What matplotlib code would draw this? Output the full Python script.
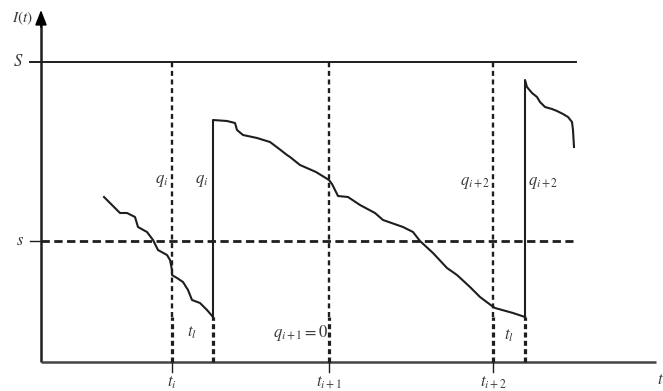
import matplotlib
matplotlib.use("Agg")
import matplotlib.pyplot as plt

plt.rcParams["mathtext.fontset"] = "stix"
plt.rcParams["font.family"] = ["Liberation Serif", "DejaVu Serif"]
plt.rcParams["lines.scale_dashes"] = False

# levels (origin = axes corner)
S_level = 300
s_level = 121

# time marks
t_i = 131
t_i_l = 172
t_i1 = 288
t_i2 = 452
t_i2_l = 484
t_end = 535

# inventory path, cycle i (before order arrives)
c1_x = [63, 79, 86, 94, 97, 106, 112, 117, 126, 129, 131, 131, 136, 142, 147, 151, 159, 166, 172]
c1_y = [165, 149, 149, 145, 135, 130, 122, 112, 107, 102, 92, 87, 84, 80, 72, 62, 59, 52, 45]

# after order q_i arrives, until before q_{i+2} arrives
c2_x = [172, 172, 186, 194, 196, 202, 216, 229, 237, 246, 249, 259, 275, 288, 291, 297, 307,
        319, 334, 342, 362, 372, 379, 392, 406, 416, 429, 439, 451, 454, 472, 484]
c2_y = [45, 242, 241, 239, 232, 227, 224, 220, 214, 207, 205, 197, 190, 182, 178, 166, 165,
        157, 149, 142, 135, 130, 121, 109, 94, 87, 75, 65, 56, 54, 49, 45]

# after q_{i+2} arrives
c3_x = [484, 484, 486, 491, 496, 499, 504, 511, 516, 522, 527, 531, 532, 533]
c3_y = [45, 282, 275, 269, 265, 260, 255, 253, 251, 248, 245, 240, 232, 215]

ink = "#1e1e1e"
txt = "#3a3a3a"

fig = plt.figure(figsize=(6.63, 3.91), dpi=100)
ax = fig.add_axes([0, 0, 1, 1])
ax.set_xlim(-41, 622)
ax.set_ylim(-29, 362)
ax.axis("off")

# axes with arrows
ax.plot([0, 0], [0, 340], color=ink, lw=1.8, solid_capstyle="butt")
ax.annotate("", xy=(0, 352), xytext=(0, 335),
            arrowprops=dict(arrowstyle="-|>,head_length=0.9,head_width=0.35",
                            color="black", lw=1.2, shrinkA=0, shrinkB=0))
ax.plot([0, 615], [0, 0], color="#444444", lw=1.8, solid_capstyle="butt")
ax.annotate("", xy=(628, 0), xytext=(612, 0),
            arrowprops=dict(arrowstyle="-|>,head_length=0.9,head_width=0.35",
                            color="black", lw=1.2, shrinkA=0, shrinkB=0))

# S and s levels
ax.plot([-11, t_end], [S_level, S_level], color=ink, lw=1.4)
ax.plot([-11, 0], [s_level, s_level], color=ink, lw=1.0)
ax.plot([0, 532], [s_level, s_level], color=ink, lw=2.0, dashes=(6, 3.2))

# vertical dashed lines
for tx in [t_i, t_i1, t_i2]:
    ax.plot([tx, tx], [45, S_level], color=ink, lw=1.7, dashes=(3.6, 2.6))
    ax.plot([tx, tx], [0, 45], color=ink, lw=2.3, dashes=(3.6, 2.4))
    ax.plot([tx, tx], [0, -10], color=ink, lw=1.0)
for tx in [t_i_l, t_i2_l]:
    ax.plot([tx, tx], [0, 45], color=ink, lw=2.3, dashes=(3.6, 2.4))

# inventory path
for cx, cy in [(c1_x, c1_y), (c2_x, c2_y), (c3_x, c3_y)]:
    ax.plot(cx, cy, color=ink, lw=1.5, solid_joinstyle="round")

fs = 12
ax.text(-19, 344, r"$I(t)$", fontsize=11, color=txt, ha="center", va="center")
ax.text(-23, S_level, r"$S$", fontsize=12, color=txt, ha="center", va="center")
ax.text(-21, s_level, r"$s$", fontsize=12, color=txt, ha="center", va="center")
ax.text(121, 181, r"$q_i$", fontsize=fs, color=txt, ha="center", va="center")
ax.text(161, 181, r"$q_i$", fontsize=fs, color=txt, ha="center", va="center")
ax.text(434, 179, r"$q_{i+2}$", fontsize=fs, color=txt, ha="center", va="center")
ax.text(502, 179, r"$q_{i+2}$", fontsize=fs, color=txt, ha="center", va="center")
ax.text(151, 29, r"$t_l$", fontsize=fs, color=txt, ha="center", va="center")
ax.text(468, 26, r"$t_l$", fontsize=fs, color=txt, ha="center", va="center")
ax.text(260, 29, r"$q_{i+1} = 0$", fontsize=fs, color=txt, ha="center", va="center")
ax.text(t_i, -21, r"$t_i$", fontsize=fs, color=txt, ha="center", va="center")
ax.text(t_i1, -21, r"$t_{i+1}$", fontsize=fs, color=txt, ha="center", va="center")
ax.text(t_i2, -21, r"$t_{i+2}$", fontsize=fs, color=txt, ha="center", va="center")
ax.text(619, -18, r"$t$", fontsize=fs, color=txt, ha="center", va="center")

fig.savefig("out.png", dpi=100)
